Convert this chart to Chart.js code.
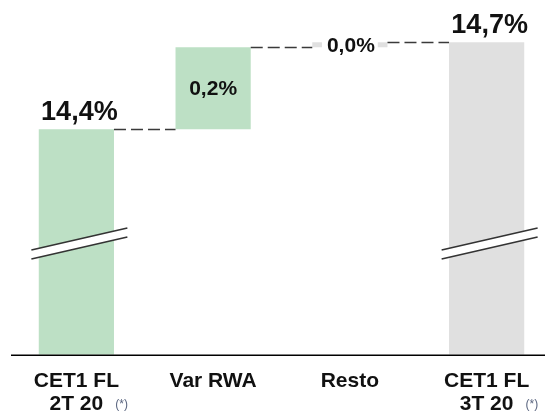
<!DOCTYPE html>
<html>
<head>
<meta charset="utf-8">
<script src="https://cdn.jsdelivr.net/npm/chart.js@4.4.1/dist/chart.umd.min.js"></script>
<style>
  html, body { margin: 0; padding: 0; background: #ffffff; overflow: hidden; width: 545px; height: 414px; }
  #wrap { position: absolute; left: 0; top: 0; width: 556px; height: 414px; }
</style>
</head>
<body>
<div id="wrap"><canvas id="c" width="556" height="414"></canvas></div>
<script>
// ---- Data ----
const categories = [['CET1 FL', '2T 20'], 'Var RWA', 'Resto', ['CET1 FL', '3T 20']];
const footnoteMarks = ['(*)', '', '', '(*)'];
const startValue = 14.44;          // CET1 FL 2T 20 (shown 14,4%)
const changes = [0.24, 0.015];     // Var RWA (0,2%), Resto (0,0%)
const endValue = 14.695;           // CET1 FL 3T 20 (shown 14,7%)
const axisBase = 13.78;            // broken-axis base
const axisTop = 14.76;
const breakValue = 14.106;         // where the axis-break marks sit

// Build waterfall ranges
const ranges = [];
ranges.push([axisBase, startValue]);
let running = startValue;
changes.forEach(c => { ranges.push([running, running + c]); running += c; });
ranges.push([axisBase, endValue]);
const shownValues = [startValue].concat(changes).concat([endValue]);
const kinds = ['total', 'delta', 'delta', 'total'];

const GREEN = 'rgb(189,224,197)';
const GREY = 'rgb(224,224,224)';
const barColors = [GREEN, GREEN, GREY, GREY];
const FONT = "'Liberation Sans', Arial, sans-serif";

function fmt(v) { return v.toFixed(1).replace('.', ',') + '%'; }

const waterfallPlugin = {
  id: 'waterfall',
  afterDatasetsDraw(chart) {
    const ctx = chart.ctx;
    const meta = chart.getDatasetMeta(0);
    const ys = chart.scales.y;
    const xs = chart.scales.x;
    const area = chart.chartArea;
    ctx.save();

    // dashed connectors
    ctx.strokeStyle = '#3a3a3a';
    ctx.lineWidth = 1.5;
    ctx.setLineDash([12, 5]);
    for (let i = 0; i < meta.data.length - 1; i++) {
      const a = meta.data[i], b = meta.data[i + 1];
      const level = ranges[i][1];
      const y = Math.round(ys.getPixelForValue(level)) + 0.5;
      ctx.beginPath();
      ctx.moveTo(a.x + a.width / 2, y);
      ctx.lineTo(b.x - b.width / 2, y);
      ctx.stroke();
    }
    ctx.setLineDash([]);

    // axis-break marks on the total bars
    const yb = ys.getPixelForValue(breakValue);
    meta.data.forEach((el, i) => {
      if (kinds[i] !== 'total') return;
      const L = el.x - 45, R = el.x + 51;
      const dy = 11, gap = 9;
      ctx.fillStyle = '#ffffff';
      ctx.beginPath();
      ctx.moveTo(L, yb + dy - gap / 2);
      ctx.lineTo(R, yb - dy - gap / 2);
      ctx.lineTo(R, yb - dy + gap / 2);
      ctx.lineTo(L, yb + dy + gap / 2);
      ctx.closePath();
      ctx.fill();
      ctx.strokeStyle = '#333333';
      ctx.lineWidth = 1.6;
      ctx.beginPath();
      ctx.moveTo(L, yb + dy - gap / 2); ctx.lineTo(R, yb - dy - gap / 2);
      ctx.moveTo(L, yb + dy + gap / 2); ctx.lineTo(R, yb - dy + gap / 2);
      ctx.stroke();
    });

    // baseline axis
    ctx.strokeStyle = '#000000';
    ctx.lineWidth = 1.5;
    ctx.beginPath();
    ctx.moveTo(11, area.bottom + 0.5);
    ctx.lineTo(chart.width, area.bottom + 0.5);
    ctx.stroke();

    // value labels
    meta.data.forEach((el, i) => {
      const txt = fmt(shownValues[i]);
      const top = ys.getPixelForValue(ranges[i][1]);
      const bot = ys.getPixelForValue(ranges[i][0]);
      ctx.fillStyle = '#111111';
      if (kinds[i] === 'total') {
        ctx.font = 'bold 27px ' + FONT;
        ctx.textAlign = 'center';
        ctx.textBaseline = 'alphabetic';
        ctx.fillText(txt, el.x + 3, top - 9);
      } else {
        ctx.font = 'bold 21px ' + FONT;
        ctx.textAlign = 'center';
        ctx.textBaseline = 'middle';
        const cy = (top + bot) / 2;
        if (bot - top < 20) {
          const w = ctx.measureText(txt).width;
          ctx.fillStyle = '#ffffff';
          ctx.fillRect(el.x - w / 2 - 4, cy - 10, w + 8, 20);
          ctx.fillStyle = '#111111';
          ctx.fillText(txt, el.x + 1, cy + 1);
        } else {
          ctx.fillText(txt, el.x, cy + 1);
        }
      }
    });

    // footnote marks after the second tick line
    ctx.font = 'bold 21px ' + FONT;
    xs.ticks.forEach((t, i) => {
      if (!footnoteMarks[i]) return;
      const lab = categories[i];
      const line2 = Array.isArray(lab) ? lab[1] : lab;
      const w = ctx.measureText(line2).width;
      const x = xs.getPixelForTick(i) + w / 2 + 12;
      ctx.save();
      ctx.font = '12px ' + FONT;
      ctx.fillStyle = '#5b6680';
      ctx.textAlign = 'left';
      ctx.textBaseline = 'alphabetic';
      ctx.fillText(footnoteMarks[i], x, area.bottom + 53);
      ctx.restore();
    });

    ctx.restore();
  }
};

new Chart(document.getElementById('c'), {
  type: 'bar',
  data: {
    labels: categories,
    datasets: [{
      data: ranges,
      backgroundColor: barColors,
      borderWidth: 0,
      barPercentage: 0.55,
      categoryPercentage: 1.0
    }]
  },
  options: {
    responsive: false,
    animation: false,
    events: [],
    layout: { padding: { left: 8, right: 1, top: 20, bottom: -17 } },
    plugins: { legend: { display: false }, tooltip: { enabled: false } },
    scales: {
      x: {
        grid: { display: false, drawTicks: false },
        border: { display: false },
        ticks: {
          color: '#111111',
          font: { family: FONT, size: 21, weight: 'bold', lineHeight: 1.1 },
          padding: 15,
          maxRotation: 0,
          autoSkip: false
        }
      },
      y: {
        display: false,
        min: axisBase,
        max: axisTop
      }
    }
  },
  plugins: [waterfallPlugin]
});
</script>
</body>
</html>
